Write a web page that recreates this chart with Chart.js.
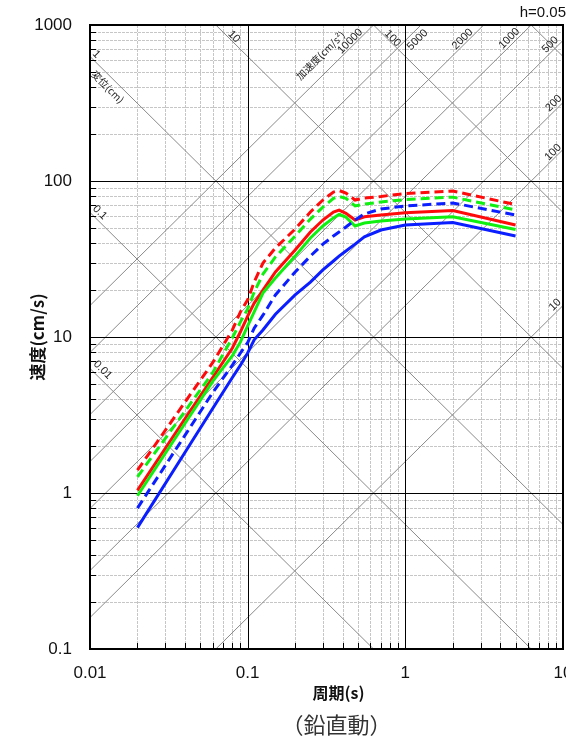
<!DOCTYPE html>
<html>
<head>
<meta charset="utf-8">
<script src="https://cdn.jsdelivr.net/npm/chart.js@4.4.1/dist/chart.umd.min.js"></script>
<style>
  html, body { margin: 0; padding: 0; background: #fff; }
  canvas { display: block; }
</style>
</head>
<body>
<canvas id="spec" width="566" height="741"></canvas>
<script>
// ── Data (period s / velocity cm/s) ──
const periods    = [0.02, 0.04, 0.06, 0.08, 0.09, 0.1, 0.11, 0.125, 0.15, 0.2, 0.25, 0.3, 0.35, 0.38, 0.42, 0.48, 0.55, 0.7, 1.0, 2.0, 5.0];
const redSolid   = [1.04, 2.99, 5.5, 8.5, 10.8, 13.6, 16.5, 20.0, 26.1, 36.1, 47.1, 56.2, 63.3, 65.1, 62.1, 56.2, 59.0, 60.5, 62.6, 64.7, 52.3];
const redDash    = [1.40, 3.82, 6.85, 11.1, 14.5, 17.3, 22.5, 29.8, 37.2, 49.2, 63.3, 75.5, 85.0, 86.9, 83.7, 75.5, 77.8, 79.6, 83.2, 86.3, 70.6];
const greenSolid = [0.96, 2.79, 5.2, 7.6, 9.3, 11.8, 14.5, 19.1, 23.9, 33.0, 43.1, 51.5, 58.0, 61.0, 58.7, 51.5, 53.8, 55.5, 57.0, 59.0, 48.9];
const greenDash  = [1.27, 3.34, 5.9, 9.9, 12.5, 15.1, 19.4, 25.3, 32.6, 44.4, 57.0, 68.0, 77.3, 79.6, 77.5, 69.2, 71.2, 73.3, 76.1, 78.8, 65.2];
const blueSolid  = [0.60, 1.82, 3.48, 5.5, 6.6, 7.9, 9.6, 11.1, 14.0, 18.6, 22.5, 26.9, 30.7, 33.0, 35.6, 39.4, 43.8, 48.5, 52.3, 54.2, 44.4];
const blueDash   = [0.80, 2.34, 4.4, 6.6, 7.9, 9.2, 11.4, 13.8, 18.6, 26.1, 33.0, 39.4, 44.4, 47.1, 50.7, 56.2, 61.5, 66.1, 69.2, 72.3, 60.5];

// ── Axes / tripartite guides ──
const xTicks = [0.01, 0.1, 1, 10];
const yTicks = [0.1, 1, 10, 100, 1000];
const xTickLabels = ['0.01', '0.1', '1', '10'];
const yTickLabels = ['0.1', '1', '10', '100', '1000'];
const dispLines = [0.01, 0.1, 1, 10, 100, 1000];          // cm
const accLines  = [10, 100, 200, 500, 1000, 2000, 5000, 10000]; // cm/s2
const dispLabels = ['0.01', '0.1', '1', '10', '100', ''];
const accLabels  = ['10', '100', '200', '500', '1000', '2000', '5000', '10000'];

const TWO_PI = 2 * Math.PI;
const FONT = '"Liberation Sans", Arial, sans-serif';
const JFONT = '"Noto Sans CJK JP", "Liberation Sans", sans-serif';

// label offsets along / perpendicular to each guide line (px)
const accLabelPos  = { 10: [-5, 6], 100: [-9, 5], 200: [-7, 6], 500: [-12, 6], 1000: [-25, 6], 2000: [-25, 5], 5000: [-13, -8], 10000: [-28, 5] };
const dispLabelPos = { 0.01: [10, 8], 0.1: [7, 7], 1: [3, 6], 10: [21, 4.5], 100: [23, 4] };

const pts = vals => periods.map((t, i) => ({ x: t, y: vals[i] }));
const line = (vals, color, dash) => ({
  data: pts(vals), borderColor: color, borderWidth: 3,
  borderDash: dash ? [9, 5] : [], pointRadius: 0, tension: 0, fill: false
});

// ── Background: grid + diagonal lines ──
function minorVals(lo, hi) {
  const out = [];
  for (let d = lo; d < hi * 0.999; d *= 10)
    for (let m = 2; m <= 9; m++) out.push(d * m);
  return out;
}

function rotText(ctx, x, y, ang, text, along, up, font) {
  ctx.save();
  ctx.translate(x, y);
  ctx.rotate(ang);
  ctx.font = font;
  ctx.textAlign = 'center';
  ctx.textBaseline = 'middle';
  ctx.fillText(text, along, -up);
  ctx.restore();
}

const tripartite = {
  id: 'tripartite',
  beforeDatasetsDraw(chart) {
    const { ctx, chartArea: a, scales: { x, y } } = chart;
    ctx.save();
    ctx.beginPath();
    ctx.rect(a.left, a.top, a.right - a.left, a.bottom - a.top);
    ctx.clip();

    // minor grid
    ctx.lineWidth = 1;
    ctx.strokeStyle = '#c6c6c6';
    ctx.setLineDash([3, 1]);
    minorVals(0.01, 10).forEach(v => {
      const px = Math.round(x.getPixelForValue(v)) + 0.5;
      ctx.beginPath(); ctx.moveTo(px, a.top); ctx.lineTo(px, a.bottom); ctx.stroke();
    });
    minorVals(0.1, 1000).forEach(v => {
      const py = Math.round(y.getPixelForValue(v)) + 0.5;
      ctx.beginPath(); ctx.moveTo(a.left, py); ctx.lineTo(a.right, py); ctx.stroke();
    });
    ctx.setLineDash([]);

    // diagonal guides
    ctx.strokeStyle = '#8a8a8a';
    ctx.lineWidth = 1;
    dispLines.forEach(d => {
      ctx.beginPath();
      ctx.moveTo(x.getPixelForValue(0.01), y.getPixelForValue(TWO_PI * d / 0.01));
      ctx.lineTo(x.getPixelForValue(10), y.getPixelForValue(TWO_PI * d / 10));
      ctx.stroke();
    });
    accLines.forEach(A => {
      ctx.beginPath();
      ctx.moveTo(x.getPixelForValue(0.01), y.getPixelForValue(A * 0.01 / TWO_PI));
      ctx.lineTo(x.getPixelForValue(10), y.getPixelForValue(A * 10 / TWO_PI));
      ctx.stroke();
    });

    // major grid
    ctx.strokeStyle = '#000';
    xTicks.forEach(v => {
      const px = Math.round(x.getPixelForValue(v)) + 0.5;
      ctx.beginPath(); ctx.moveTo(px, a.top); ctx.lineTo(px, a.bottom); ctx.stroke();
    });
    yTicks.forEach(v => {
      const py = Math.round(y.getPixelForValue(v)) + 0.5;
      ctx.beginPath(); ctx.moveTo(a.left, py); ctx.lineTo(a.right, py); ctx.stroke();
    });

    // guide labels
    ctx.fillStyle = '#222';
    accLines.forEach((A, i) => {
      let t = TWO_PI * 1000 / A, cx, cy;
      if (t <= 10) { cx = x.getPixelForValue(t); cy = a.top; }
      else { cx = a.right; cy = y.getPixelForValue(A * 10 / TWO_PI); }
      const [al, up] = accLabelPos[A];
      rotText(ctx, cx, cy, -Math.PI / 4, accLabels[i], al, up, '11px ' + FONT);
      if (A === 10000) rotText(ctx, cx, cy, -Math.PI / 4, '加速度(cm/s²)', -59, 16, '10px ' + JFONT);
    });
    dispLines.forEach((d, i) => {
      if (!dispLabels[i]) return;
      let t = TWO_PI * d / 1000, cx, cy;
      if (t >= 0.01) { cx = x.getPixelForValue(t); cy = a.top; }
      else { cx = a.left; cy = y.getPixelForValue(TWO_PI * d / 0.01); }
      const [al, up] = dispLabelPos[d];
      rotText(ctx, cx, cy, Math.PI / 4, dispLabels[i], al, up, '11px ' + FONT);
      if (d === 1) rotText(ctx, cx, cy, Math.PI / 4, '変位(cm)', 34, -9, '10px ' + JFONT);
    });
    ctx.restore();
  },

  afterDraw(chart) {
    const { ctx, chartArea: a, scales: { x, y } } = chart;
    ctx.save();
    // ticks (inside)
    ctx.strokeStyle = '#000';
    ctx.lineWidth = 1;
    minorVals(0.1, 1000).forEach(v => {
      const py = Math.round(y.getPixelForValue(v)) + 0.5;
      ctx.beginPath(); ctx.moveTo(a.left, py); ctx.lineTo(a.left + 6, py); ctx.stroke();
    });
    minorVals(0.01, 10).forEach(v => {
      const px = Math.round(x.getPixelForValue(v)) + 0.5;
      ctx.beginPath(); ctx.moveTo(px, a.bottom); ctx.lineTo(px, a.bottom - 6); ctx.stroke();
    });
    // frame
    ctx.lineWidth = 2;
    ctx.strokeRect(a.left, a.top, a.right - a.left, a.bottom - a.top);

    // tick labels
    ctx.fillStyle = '#111';
    ctx.font = '17px ' + FONT;
    ctx.textAlign = 'right';
    ctx.textBaseline = 'middle';
    yTicks.forEach((v, i) => ctx.fillText(yTickLabels[i], a.left - 18, y.getPixelForValue(v)));
    ctx.textAlign = 'center';
    xTicks.forEach((v, i) => ctx.fillText(xTickLabels[i], x.getPixelForValue(v), a.bottom + 24));

    // titles
    const mid = (a.left + a.right) / 2 + 12;
    ctx.font = 'bold 16px ' + JFONT;
    ctx.fillText('周期(s)', mid, a.bottom + 44);
    ctx.fillStyle = '#333';
    ctx.font = '22px ' + JFONT;
    ctx.fillText('（鉛直動）', mid - 2, a.bottom + 76);
    ctx.fillStyle = '#111';
    ctx.font = '15px ' + FONT;
    ctx.textAlign = 'right';
    ctx.fillText('h=0.05', 566, 13);

    ctx.save();
    ctx.translate(38, (a.top + a.bottom) / 2);
    ctx.rotate(-Math.PI / 2);
    ctx.textAlign = 'center';
    ctx.font = 'bold 17px ' + JFONT;
    ctx.fillText('速度(cm/s)', 0, 0);
    ctx.restore();
    ctx.restore();
  }
};

// ── Chart ──
new Chart(document.getElementById('spec').getContext('2d'), {
  type: 'line',
  data: {
    datasets: [
      line(blueSolid, '#0a1eff', false),
      line(blueDash, '#0a1eff', true),
      line(greenSolid, '#10f010', false),
      line(greenDash, '#10f010', true),
      line(redSolid, '#ff0a0a', false),
      line(redDash, '#ff0a0a', true)
    ]
  },
  options: {
    responsive: false,
    devicePixelRatio: 1,
    animation: false,
    layout: { padding: { left: 90, right: 3, top: 25, bottom: 92 } },
    plugins: { legend: { display: false }, tooltip: { enabled: false } },
    scales: {
      x: { type: 'logarithmic', min: 0.01, max: 10, display: false },
      y: { type: 'logarithmic', min: 0.1, max: 1000, display: false }
    }
  },
  plugins: [tripartite]
});
</script>
</body>
</html>
